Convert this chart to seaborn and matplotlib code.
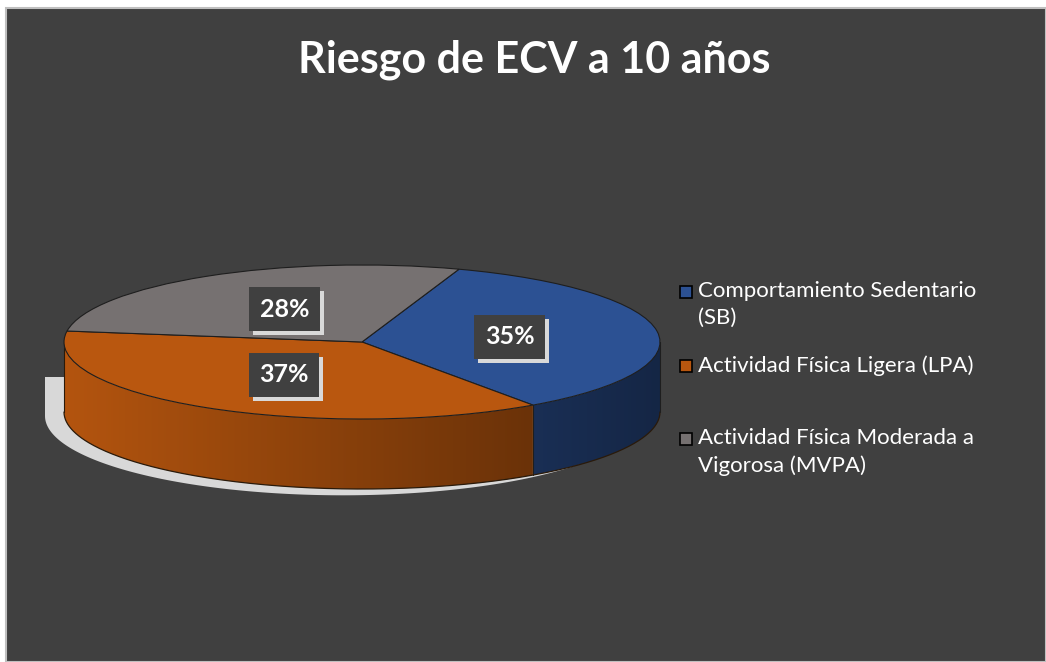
import numpy as np
import matplotlib
matplotlib.use("Agg")
import matplotlib.pyplot as plt
import matplotlib.patheffects as pe
from matplotlib.patches import Polygon, Rectangle
from matplotlib.colors import to_rgb
import seaborn as sns

# data
categories = ["Comportamiento Sedentario\n(SB)",
              "Actividad Física Ligera (LPA)",
              "Actividad Física Moderada a\nVigorosa (MVPA)"]
values = [35, 37, 28]
colors = ["#2C5193", "#B9570F", "#767171"]
title = "Riesgo de ECV a 10 años"

sns.set_theme(style="dark")
plt.rcParams["font.family"] = ["Lato", "DejaVu Sans"]

W, H, DPI = 1046, 662, 100
BG = "#404040"

# pie geometry in pixels (centre, semi axes, depth)
cx_px, cy_px = 362, 342
a_px, b_px = 298, 77
depth = 70 / b_px
start = 71

fig = plt.figure(figsize=(W / DPI, H / DPI), dpi=DPI)
fig.patch.set_facecolor("white")
fig.add_artist(Rectangle((6 / W, 0), 1 - 6 / W, 1 - 8 / H, transform=fig.transFigure,
                         facecolor=BG, edgecolor="#BFBFBF", linewidth=1.5, zorder=0))

ax = fig.add_axes([0, 0, 1, 1])
ax.patch.set_alpha(0)

wedges, texts, autotexts = ax.pie(
    values, colors=colors, startangle=start, counterclock=False, radius=1,
    center=(0, 0), autopct="%1.0f%%", pctdistance=0.5,
    wedgeprops=dict(edgecolor="#1E1E1E", linewidth=0.8, zorder=3),
    textprops=dict(color="white", fontsize=18, fontweight="bold", zorder=6))

xlim = (-cx_px / a_px, (W - cx_px) / a_px)
ylim = (-(H - cy_px) / b_px, cy_px / b_px)

# shadow under the pie
th = np.radians(np.linspace(180, 360, 200))
sx = -19 / a_px + np.cos(th)
sy = -depth - 4 / b_px + 1.03 * np.sin(th)
top_y = -(377 - cy_px) / b_px
shadow_pts = np.column_stack([np.r_[sx[0], sx, sx[-1]], np.r_[top_y, sy, top_y]])
ax.add_patch(Polygon(shadow_pts, closed=True, facecolor="#D8D8D8", edgecolor="none", zorder=1))

# side walls of the front half, shaded left to right with a clipped gradient
bounds = start - np.cumsum([0] + values) * 360 / sum(values)
gx = np.linspace(-1, 1, 400)
shade = np.clip(0.97 - 0.25 * (1 + gx), 0.4, 1)
for i, col in enumerate(colors):
    hi, lo = bounds[i], bounds[i + 1]
    base = np.array(to_rgb(col))
    for k in range(-2, 2):
        f0, f1 = 180 + 360 * k, 360 + 360 * k
        s0, s1 = max(lo, f0), min(hi, f1)
        if s1 <= s0:
            continue
        r = np.radians(np.linspace(s0, s1, 200))
        pts = np.r_[np.column_stack([np.cos(r), np.sin(r)]),
                    np.column_stack([np.cos(r[::-1]), np.sin(r[::-1]) - depth])]
        poly = Polygon(pts, closed=True, facecolor="none", edgecolor="none", zorder=2)
        ax.add_patch(poly)
        img = (base[None, None, :] * shade[None, :, None]).clip(0, 1)
        im = ax.imshow(img, extent=(-1, 1, -1 - depth, 1), aspect="auto",
                       interpolation="bilinear", zorder=2)
        im.set_clip_path(poly)
        if s0 > f0:
            rr = np.radians(s0)
            ax.plot([np.cos(rr)] * 2, [np.sin(rr), np.sin(rr) - depth], color="#1E1E1E",
                    lw=0.8, zorder=2.5)

# outline of the front wall
tf = np.radians(np.linspace(180, 360, 300))
ax.plot(np.cos(tf), np.sin(tf) - depth, color="#2A1A0A", lw=0.9, zorder=2.5)
ax.plot([-1, -1], [0, -depth], color="#2A1A0A", lw=0.8, zorder=2.5)
ax.plot([1, 1], [0, -depth], color="#1E1E1E", lw=0.8, zorder=2.5)

ax.set_aspect("auto")
ax.set_xlim(*xlim)
ax.set_ylim(*ylim)
ax.axis("off")

# percentage labels with dark box and light shadow
for t in autotexts:
    t.set_bbox(dict(boxstyle="square,pad=0.42", facecolor=BG, edgecolor="none"))
    t.get_bbox_patch().set_path_effects([
        pe.SimplePatchShadow(offset=(3, -3), shadow_rgbFace="#D9D9D9", alpha=1),
        pe.Normal()])

# title
fig.text(534 / W, 1 - 72 / H, title, ha="center", va="baseline", color="white",
         fontsize=31, fontweight="bold")

# legend
leg_y = [292, 366, 439]
for lab, col, y in zip(categories, colors, leg_y):
    fig.add_artist(Rectangle((680 / W, 1 - (y + 6) / H), 12 / W, 12 / H,
                             transform=fig.transFigure, facecolor=col,
                             edgecolor="black", linewidth=1.2))
    fig.text(698 / W, 1 - (y - 11) / H, lab, ha="left", va="top", color="white",
             fontsize=16, linespacing=1.45)

fig.savefig("out.png", dpi=DPI, facecolor=fig.get_facecolor())
